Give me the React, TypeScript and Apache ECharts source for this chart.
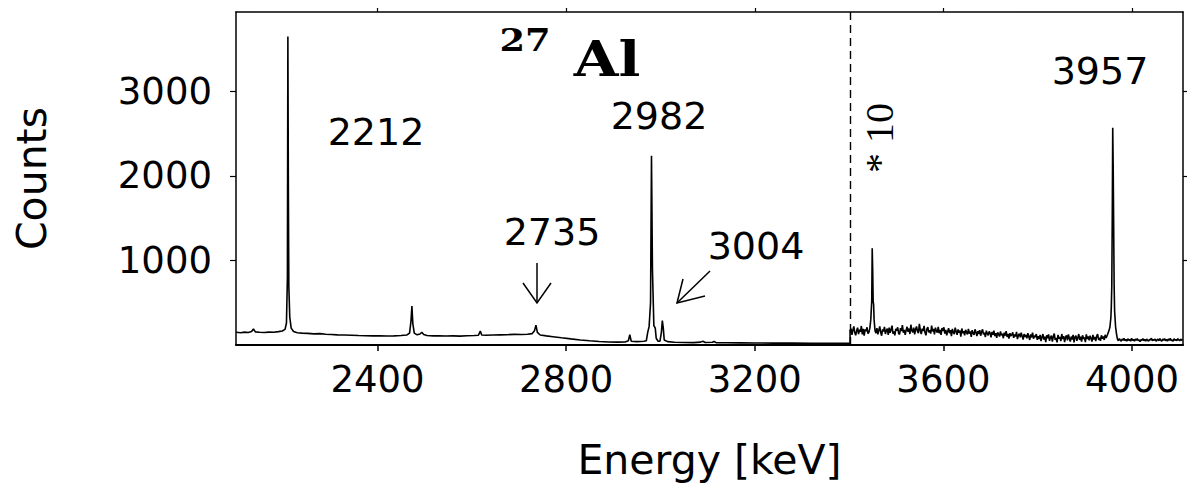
import React, { useEffect, useRef } from "react";
import * as echarts from "echarts";

// Axis ranges and tick values (keV / counts)
const energyRange = [2100, 4108];
const countRange = [0, 3940];
const energyTicks = [2400, 2800, 3200, 3600, 4000];
const countTicks = [1000, 2000, 3000];

// Spectrum below 3400 keV, direct counts
const directSpectrum: [number, number][] = [
  [2100, 150], [2110, 145], [2118, 152], [2126, 148], [2133, 160], [2137, 190], [2141, 155],
  [2150, 150], [2160, 147], [2170, 152], [2180, 150], [2190, 158], [2198, 165], [2204, 185],
  [2207, 260], [2209, 800], [2210, 3650], [2211, 1900], [2212, 700], [2214, 330], [2217, 200],
  [2222, 160], [2230, 145], [2240, 140], [2252, 138], [2265, 132], [2278, 135], [2290, 128],
  [2302, 125], [2315, 120], [2330, 118], [2345, 116], [2360, 112], [2375, 110], [2390, 108],
  [2405, 110], [2420, 106], [2435, 108], [2450, 112], [2462, 118], [2468, 140], [2471, 280],
  [2473, 460], [2475, 250], [2478, 140], [2484, 120], [2490, 130], [2494, 150], [2498, 125],
  [2505, 112], [2518, 108], [2530, 110], [2545, 106], [2560, 108], [2575, 105], [2590, 110],
  [2605, 112], [2614, 115], [2618, 165], [2621, 118], [2630, 115], [2645, 118], [2660, 120],
  [2675, 122], [2690, 126], [2705, 124], [2718, 128], [2728, 135], [2733, 170], [2736, 235],
  [2739, 150], [2745, 118], [2758, 108], [2772, 98], [2790, 85], [2810, 72], [2830, 60],
  [2850, 50], [2870, 42], [2890, 36], [2910, 34], [2925, 36], [2932, 50], [2935, 122],
  [2938, 45], [2950, 40], [2965, 45], [2970, 50], [2973, 150], [2976, 220], [2979, 500],
  [2981, 2240], [2983, 900], [2986, 230], [2989, 200], [2991, 80], [2995, 45], [2999, 45],
  [3002, 150], [3004, 290], [3006, 200], [3008, 60], [3015, 40], [3030, 32], [3050, 30],
  [3070, 28], [3085, 34], [3090, 45], [3095, 30], [3110, 32], [3114, 42], [3118, 28],
  [3140, 26], [3170, 25], [3200, 24], [3240, 22], [3280, 22], [3320, 20], [3360, 20], [3402, 20],
];

// Spectrum above 3400 keV, counts multiplied by 10
const scaledSpectrum: [number, number][] = [
  [3402, 20], [3402, 170], [3404, 195], [3406, 120], [3408, 175], [3410, 220], [3412, 145],
  [3414, 115], [3416, 170], [3418, 205], [3420, 130], [3422, 180], [3424, 155], [3426, 225],
  [3428, 125], [3430, 190], [3432, 110], [3434, 185], [3436, 165], [3438, 210], [3440, 135],
  [3442, 150], [3444, 200], [3446, 300], [3448, 520], [3449, 1145], [3450, 900], [3451, 520],
  [3452, 480], [3453, 300], [3455, 170],
  [3457, 140], [3459, 200], [3461, 125], [3463, 175], [3465, 220], [3467, 150], [3469, 110],
  [3471, 185], [3473, 160], [3475, 215], [3477, 130], [3479, 170], [3481, 195], [3483, 120],
  [3485, 205], [3487, 145], [3489, 180], [3491, 230], [3493, 135], [3495, 160], [3497, 115],
  [3499, 190], [3501, 170], [3503, 210], [3505, 140], [3507, 125], [3509, 200], [3511, 165],
  [3513, 235], [3515, 145], [3517, 180], [3519, 120], [3521, 175], [3523, 215], [3525, 155],
  [3527, 195], [3529, 130], [3531, 240], [3533, 170], [3535, 150], [3537, 205], [3539, 125],
  [3541, 185], [3543, 220], [3545, 160], [3547, 140], [3549, 250], [3551, 175], [3553, 130],
  [3555, 195], [3557, 165], [3559, 225], [3561, 145], [3563, 115], [3565, 190], [3567, 210],
  [3569, 150], [3571, 175], [3573, 135], [3575, 230], [3577, 160], [3579, 190], [3581, 125],
  [3583, 205], [3585, 170], [3587, 145], [3589, 215], [3591, 140], [3593, 180], [3595, 120],
  [3597, 200], [3599, 165],
  [3601, 210], [3603, 135], [3605, 180], [3607, 115], [3609, 160], [3611, 200], [3613, 140],
  [3615, 175], [3617, 105], [3619, 190], [3621, 150], [3623, 130], [3625, 205], [3627, 160],
  [3629, 120], [3631, 185], [3633, 145], [3635, 170], [3637, 100], [3639, 195], [3641, 140],
  [3643, 165], [3645, 115], [3647, 180], [3649, 150], [3651, 125], [3653, 190], [3655, 135],
  [3657, 160], [3659, 95], [3661, 175], [3663, 140], [3665, 120], [3667, 185], [3669, 150],
  [3671, 105], [3673, 165], [3675, 130], [3677, 175], [3679, 110], [3681, 155], [3683, 185],
  [3685, 125], [3687, 145], [3689, 95], [3691, 170], [3693, 135], [3695, 115], [3697, 160],
  [3699, 140],
  [3701, 90], [3703, 155], [3705, 120], [3707, 170], [3709, 105], [3711, 140], [3713, 85],
  [3715, 150], [3717, 125], [3719, 100], [3721, 160], [3723, 115], [3725, 135], [3727, 80],
  [3729, 145], [3731, 110], [3733, 165], [3735, 95], [3737, 130], [3739, 75], [3741, 140],
  [3743, 105], [3745, 120], [3747, 150], [3749, 85], [3751, 125], [3753, 100], [3755, 155],
  [3757, 70], [3759, 115], [3761, 135], [3763, 90], [3765, 145], [3767, 105], [3769, 65],
  [3771, 130], [3773, 95], [3775, 120], [3777, 80], [3779, 140], [3781, 100], [3783, 60],
  [3785, 125], [3787, 90], [3789, 145], [3791, 75], [3793, 110], [3795, 95], [3797, 130],
  [3799, 60],
  [3801, 105], [3803, 70], [3805, 120], [3807, 45], [3809, 95], [3811, 130], [3813, 65],
  [3815, 100], [3817, 35], [3819, 115], [3821, 80], [3823, 125], [3825, 50], [3827, 90],
  [3829, 110], [3831, 40], [3833, 100], [3835, 135], [3837, 60], [3839, 85], [3841, 30],
  [3843, 120], [3845, 75], [3847, 95], [3849, 45], [3851, 130], [3853, 70], [3855, 105],
  [3857, 35], [3859, 90], [3861, 115], [3863, 55], [3865, 125], [3867, 80], [3869, 40],
  [3871, 100], [3873, 65], [3875, 120], [3877, 30], [3879, 95], [3881, 110], [3883, 50],
  [3885, 85], [3887, 130], [3889, 60], [3891, 100], [3893, 40], [3895, 115], [3897, 75],
  [3899, 90], [3901, 35], [3903, 125], [3905, 70], [3907, 100], [3909, 55], [3911, 110],
  [3913, 80], [3915, 40], [3917, 120], [3919, 65], [3921, 95], [3923, 45], [3925, 105],
  [3927, 130], [3929, 60], [3931, 85], [3933, 50], [3935, 115], [3937, 75], [3939, 100],
  [3941, 60], [3943, 120], [3945, 85], [3947, 110], [3949, 140], [3951, 170], [3953, 210],
  [3955, 320], [3956, 450], [3957, 700], [3958, 1500], [3959, 2570], [3960, 2100],
  [3961, 1400], [3962, 700], [3963, 400], [3965, 220], [3967, 130],
  [3969, 70], [3971, 50], [3973, 75], [3975, 60], [3977, 45], [3979, 70], [3981, 55],
  [3983, 80], [3985, 50], [3987, 65], [3989, 45], [3991, 75], [3993, 55], [3995, 65],
  [3997, 45], [3999, 80], [4001, 55], [4003, 65], [4005, 45], [4007, 70], [4009, 55],
  [4011, 75], [4013, 50], [4015, 60], [4017, 40], [4019, 65], [4021, 55], [4023, 75],
  [4025, 50], [4027, 65], [4029, 45], [4031, 70], [4033, 55], [4035, 45], [4037, 65],
  [4039, 60], [4041, 80], [4043, 50], [4045, 65], [4047, 55], [4049, 70], [4051, 45],
  [4053, 60], [4055, 70], [4057, 50], [4059, 75], [4061, 55], [4063, 45], [4065, 70],
  [4067, 55], [4069, 75], [4071, 50], [4073, 65], [4075, 45], [4077, 70], [4079, 55],
  [4081, 80], [4083, 50], [4085, 60], [4087, 45], [4089, 75], [4091, 55], [4093, 65],
  [4095, 50], [4097, 75], [4099, 60], [4101, 50], [4103, 70], [4105, 55], [4107, 65],
];

const dividerEnergy = [3402];
const peakNames = ["2212", "2982", "3957", "2735", "3004"];
const scaleNote = "* 10";
const isotopeMass = "27";
const isotopeSymbol = "Al";
const xName = "Energy [keV]";
const yName = "Counts";

const SANS = "DejaVu Sans";
const SERIF = "DejaVu Serif";

function label(text: string, x: number, y: number) {
  return {
    type: "text",
    x,
    y,
    style: {
      text,
      fontFamily: SANS,
      fontSize: 38,
      fill: "#000",
      align: "center",
      verticalAlign: "middle",
    },
  };
}

function arrow(points: number[][], head: number[][]) {
  return [
    { type: "line", shape: { x1: points[0][0], y1: points[0][1], x2: points[1][0], y2: points[1][1] }, style: { stroke: "#000", lineWidth: 1.5 } },
    { type: "polyline", shape: { points: head }, style: { stroke: "#000", lineWidth: 1.5, fill: null } },
  ];
}

const plain = (v: number) => String(v);

export default function App() {
  const ref = useRef<HTMLDivElement>(null);
  useEffect(() => {
    document.body.style.margin = "0";
    const chart = echarts.init(ref.current!, undefined, { renderer: "svg" });
    const axisLine = { show: true, onZero: false, lineStyle: { color: "#000", width: 1.5 } };
    const option = {
      animation: false,
      backgroundColor: "#fff",
      grid: { left: 236, right: 10, top: 12, bottom: 140 },
      xAxis: [
        {
          type: "value",
          min: energyRange[0],
          max: energyRange[1],
          position: "bottom",
          axisLine: { ...axisLine, lineStyle: { color: "#000", width: 2 } },
          splitLine: { show: false },
          axisTick: { show: true, inside: false, length: 6, customValues: energyTicks, lineStyle: { color: "#000", width: 1.5 } },
          axisLabel: { show: true, customValues: energyTicks, formatter: plain, margin: 16, fontFamily: SANS, fontSize: 37, color: "#000" },
          name: xName,
          nameLocation: "middle",
          nameGap: 94,
          nameTextStyle: { fontFamily: SANS, fontSize: 41, color: "#000" },
        },
        {
          type: "value",
          min: energyRange[0],
          max: energyRange[1],
          position: "top",
          axisLine,
          splitLine: { show: false },
          axisTick: { show: true, inside: false, length: 4, customValues: energyTicks, lineStyle: { color: "#000", width: 1.2 } },
          axisLabel: { show: false },
        },
      ],
      yAxis: [
        {
          type: "value",
          min: countRange[0],
          max: countRange[1],
          position: "left",
          axisLine,
          splitLine: { show: false },
          axisTick: { show: true, inside: false, length: 6, customValues: countTicks, lineStyle: { color: "#000", width: 1.2 } },
          axisLabel: { show: true, customValues: countTicks, formatter: plain, margin: 24, fontFamily: SANS, fontSize: 37, color: "#000" },
          name: yName,
          nameLocation: "middle",
          nameGap: 184,
          nameRotate: 90,
          nameTextStyle: { fontFamily: SANS, fontSize: 41, color: "#000" },
        },
        {
          type: "value",
          min: countRange[0],
          max: countRange[1],
          position: "right",
          axisLine,
          splitLine: { show: false },
          axisTick: { show: true, inside: false, length: 4, customValues: countTicks, lineStyle: { color: "#000", width: 1.2 } },
          axisLabel: { show: false },
        },
      ],
      series: [
        {
          type: "line",
          xAxisIndex: 0,
          yAxisIndex: 0,
          data: directSpectrum,
          showSymbol: false,
          symbol: "none",
          lineStyle: { color: "#000", width: 1.6 },
          markLine: {
            silent: true,
            symbol: "none",
            label: { show: false },
            lineStyle: { color: "#000", width: 1.4, type: [8, 5] },
            data: dividerEnergy.map((e) => ({ xAxis: e })),
          },
        },
        {
          type: "line",
          xAxisIndex: 0,
          yAxisIndex: 0,
          data: scaledSpectrum,
          showSymbol: false,
          symbol: "none",
          lineStyle: { color: "#000", width: 1.6 },
        },
      ],
      graphic: [
        {
          type: "text",
          x: 525,
          y: 40,
          scaleX: 1.15,
          style: { text: isotopeMass, fontFamily: SERIF, fontWeight: "bold", fontSize: 32, fill: "#000", align: "center", verticalAlign: "middle" },
        },
        {
          type: "text",
          x: 607,
          y: 59,
          scaleX: 1.2,
          style: { text: isotopeSymbol, fontFamily: SERIF, fontWeight: "bold", fontSize: 48, fill: "#000", align: "center", verticalAlign: "middle" },
        },
        label(peakNames[0], 376, 132),
        label(peakNames[1], 659, 116),
        label(peakNames[2], 1100, 71),
        label(peakNames[3], 552, 232),
        label(peakNames[4], 756, 246),
        {
          type: "text",
          x: 879,
          y: 138,
          rotation: Math.PI / 2,
          style: { text: scaleNote, fontFamily: "Liberation Serif", fontSize: 40, fill: "#000", align: "center", verticalAlign: "middle" },
        },
        ...arrow([[537, 263], [537, 303]], [[523, 283], [537, 303], [551, 283]]),
        ...arrow([[710, 271], [677, 303]], [[683, 279], [677, 303], [705, 296]]),
      ],
    };
    chart.setOption(option as any);
    return () => chart.dispose();
  }, []);
  return <div ref={ref} style={{ width: 1193, height: 485 }} />;
}
